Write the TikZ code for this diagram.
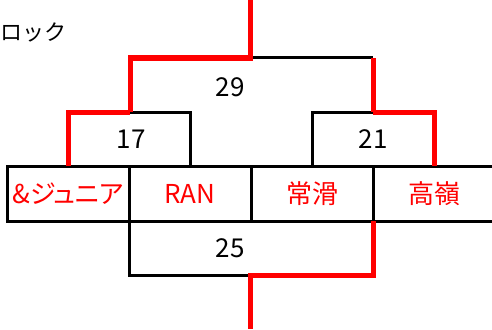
\documentclass[tikz,border=0pt]{standalone}
\usepackage{fontspec}
\setmainfont{Noto Sans CJK JP}
\newfontfamily\propfont[RawFeature=+palt]{Noto Sans CJK JP}
\usetikzlibrary{positioning}
\tikzstyle{lose} = [line width=3pt,black,line join=miter]
\tikzstyle{win} = [line width=5pt,red,line join=miter]
\begin{document}
\begin{tikzpicture}[x=1pt,y=-1pt,
			team/.style={draw,line width=3pt,minimum width=122pt,minimum height=55pt,inner sep=0pt,outer sep=0pt,text=red,font=\propfont\fontsize{26}{30}\selectfont},
			score/.style={font=\fontsize{26}{30}\selectfont,inner sep=0pt}]
			\clip (0,0) rectangle (492,329);
			\node (blk) [anchor=west,inner sep=0pt,font=\fontsize{22}{26}\selectfont] at (0,32) {ロック};
			\node (t1) [team] at (68,193.5) {\&ジュニア};
			\node (t2) [team,right=0pt of t1] {RAN};
			\node (t3) [team,right=0pt of t2] {常滑};
			\node (t4) [team,right=0pt of t3] {高嶺};
			\coordinate (m17) at (130,112);
			\coordinate (m21) at (373,112);
			\coordinate (m29) at (250,58);
			\coordinate (m25) at (250,275);
			\coordinate (top) at (250,0);
			\coordinate (bot) at (250,329);
			\node (s17) [score] at (131,139) {17};
			\node (s21) [score] at (373,139) {21};
			\node (s29) [score] at (230,87) {29};
			\node (s25) [score] at (230,248) {25};
			\draw [lose] (m17) -| (t2.north);
			\draw [lose] (t3.north) |- (m21);
			\draw [lose] (m29) -- (m21 |- m29);
			\draw [lose] (t1.south east) |- (m25);
			\draw [win] (t1.north) |- (m17);
			\draw [win] (m21) -| (t4.north);
			\draw [win] (m17) |- (m29) -- (top);
			\draw [win] (m21) -- (m21 |- m29);
			\draw [win] (t3.south east) |- (m25) -- (bot);
		\end{tikzpicture}
\end{document}
